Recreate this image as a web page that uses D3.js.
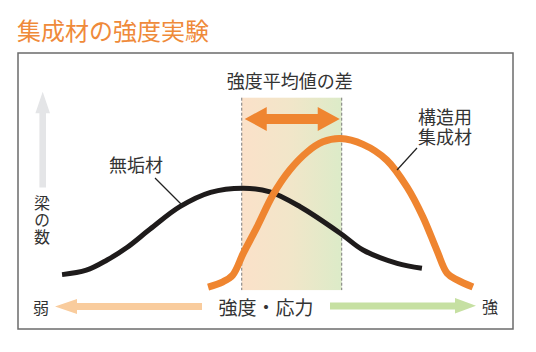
<!DOCTYPE html>
<html>
<head>
<meta charset="utf-8">
<script src="https://cdn.jsdelivr.net/npm/d3@7"></script>
<style>
  body { margin: 0; background: #fff; }
  svg { display: block; font-family: "Noto Sans CJK JP", "Noto Sans", sans-serif; }
</style>
</head>
<body>
<div id="chart"></div>
<script>
// strength (0-100) vs. number of beams (0-100)
const mukuX = [8.9, 13.8, 18.0, 22.0, 26.7, 32.7, 38.9, 45.5, 50.9, 57.0, 65.1, 69.7, 76.6, 81.6];
const mukuY = [19.7, 21.3, 25.0, 29.5, 36.2, 44.3, 49.5, 51.0, 49.7, 44.3, 34.7, 28.6, 23.8, 22.0];

const shuseiX = [38.4, 41.4, 43.4, 45.5, 48.3, 51.5, 54.9, 58.4, 61.6, 65.1, 69.7, 74.5, 78.6, 81.8, 84.6, 86.7, 88.7, 91.9];
const shuseiY = [15.2, 17.1, 19.6, 27.4, 37.0, 48.6, 57.6, 64.1, 67.8, 69.0, 66.9, 61.2, 51.4, 40.6, 28.6, 20.2, 17.8, 15.2];

const meanMuku = 45.2;
const meanShusei = 65.4;
const bandTop = 83.8;
const bandBottom = 14.1;
const diffArrowY = 76.1;

const title = '集成材の強度実験';
const diffLabel = '強度平均値の差';
const mukuLabel = '無垢材';
const shuseiLabel = ['構造用', '集成材'];
const yLabel = '梁の数';
const xLabel = '強度・応力';
const weakLabel = '弱';
const strongLabel = '強';

const width = 536;
const height = 352;
const box = { left: 18, right: 513, top: 53, bottom: 329 };

const svg = d3.select('#chart')
  .append('svg')
  .attr('width', width)
  .attr('height', height);

const x = d3.scaleLinear().domain([0, 100]).range([box.left, box.right]);
const y = d3.scaleLinear().domain([0, 100]).range([box.bottom, box.top]);

const orange = '#ef8530';
const textColor = '#333';

svg.append('text')
  .attr('x', 17)
  .attr('y', 29)
  .attr('dominant-baseline', 'central')
  .attr('font-size', 24)
  .attr('fill', '#ef8a3a')
  .text(title);

svg.append('rect')
  .attr('x', box.left)
  .attr('y', box.top)
  .attr('width', box.right - box.left)
  .attr('height', box.bottom - box.top)
  .attr('fill', 'none')
  .attr('stroke', '#6b6b6b')
  .attr('stroke-width', 1.5);

// shaded band between the two means
const grad = svg.append('defs').append('linearGradient')
  .attr('id', 'band')
  .attr('x1', '0%').attr('x2', '100%');
grad.append('stop').attr('offset', '0%').attr('stop-color', '#fbe1c9');
grad.append('stop').attr('offset', '50%').attr('stop-color', '#f1e6c9');
grad.append('stop').attr('offset', '100%').attr('stop-color', '#dcebc8');

svg.append('rect')
  .attr('x', x(meanMuku))
  .attr('y', y(bandTop))
  .attr('width', x(meanShusei) - x(meanMuku))
  .attr('height', y(bandBottom) - y(bandTop))
  .attr('fill', 'url(#band)');

svg.selectAll('.mean-line')
  .data([meanMuku, meanShusei])
  .enter().append('line')
  .attr('class', 'mean-line')
  .attr('x1', (d) => x(d))
  .attr('x2', (d) => x(d))
  .attr('y1', y(bandTop))
  .attr('y2', y(bandBottom))
  .attr('stroke', '#7a7a7a')
  .attr('stroke-width', 1)
  .attr('stroke-dasharray', '3,2');

// double arrow
const ax0 = x(meanMuku) + 3;
const ax1 = x(meanShusei) - 2;
const ay = y(diffArrowY);
const head = 22;
const hh = 12;
const sh = 5;
svg.append('path')
  .attr('d', `M${ax0},${ay} L${ax0 + head},${ay - hh} L${ax0 + head},${ay - sh} L${ax1 - head},${ay - sh}`
    + ` L${ax1 - head},${ay - hh} L${ax1},${ay} L${ax1 - head},${ay + hh} L${ax1 - head},${ay + sh}`
    + ` L${ax0 + head},${ay + sh} L${ax0 + head},${ay + hh} Z`)
  .attr('fill', orange);

svg.append('text')
  .attr('x', (x(meanMuku) + x(meanShusei)) / 2 - 2)
  .attr('y', 80)
  .attr('text-anchor', 'middle')
  .attr('dominant-baseline', 'central')
  .attr('font-size', 18)
  .attr('fill', textColor)
  .text(diffLabel);

// curves
const line = d3.line()
  .x((d) => x(d[0]))
  .y((d) => y(d[1]))
  .curve(d3.curveCatmullRom.alpha(0.5));

svg.append('path')
  .datum(d3.zip(mukuX, mukuY))
  .attr('d', line)
  .attr('fill', 'none')
  .attr('stroke', '#1e1b1b')
  .attr('stroke-width', 5);

svg.append('path')
  .datum(d3.zip(shuseiX, shuseiY))
  .attr('d', line)
  .attr('fill', 'none')
  .attr('stroke', orange)
  .attr('stroke-width', 7);

// labels with pointer lines
svg.append('text')
  .attr('x', 136)
  .attr('y', 164)
  .attr('text-anchor', 'middle')
  .attr('dominant-baseline', 'central')
  .attr('font-size', 18)
  .attr('fill', textColor)
  .text(mukuLabel);
svg.append('line')
  .attr('x1', 155).attr('y1', 178)
  .attr('x2', 182).attr('y2', 205)
  .attr('stroke', '#222').attr('stroke-width', 1.2);

const shuseiText = svg.append('text')
  .attr('text-anchor', 'middle')
  .attr('font-size', 18)
  .attr('fill', textColor);
shuseiText.selectAll('tspan')
  .data(shuseiLabel)
  .enter().append('tspan')
  .attr('x', 445)
  .attr('y', (d, i) => 123.5 + i * 20)
  .text((d) => d);
svg.append('line')
  .attr('x1', 417).attr('y1', 148)
  .attr('x2', 397).attr('y2', 170)
  .attr('stroke', '#222').attr('stroke-width', 1.2);

// y direction arrow
svg.append('path')
  .attr('d', 'M42.7,91.7 L50,113.3 L46,113.3 L46,187.5 L39.4,187.5 L39.4,113.3 L35.4,113.3 Z')
  .attr('fill', '#e4e5e7');

svg.append('text')
  .attr('x', 42)
  .attr('y', 195)
  .attr('writing-mode', 'vertical-rl')
  .attr('letter-spacing', 1)
  .attr('font-size', 16)
  .attr('fill', textColor)
  .text(yLabel);

// x direction arrows
svg.append('path')
  .attr('d', 'M55,306.5 L77,299 L77,303 L202,303 L202,310 L77,310 L77,314 Z')
  .attr('fill', '#f9cc9d');
svg.append('path')
  .attr('d', 'M476,305.8 L455,298 L455,302.5 L330,302.5 L330,309.5 L455,309.5 L455,313.5 Z')
  .attr('fill', '#c6e0a2');

svg.append('text')
  .attr('x', 266)
  .attr('y', 306)
  .attr('text-anchor', 'middle')
  .attr('dominant-baseline', 'central')
  .attr('font-size', 19)
  .attr('fill', textColor)
  .text(xLabel);

svg.append('text')
  .attr('x', 41)
  .attr('y', 307)
  .attr('text-anchor', 'middle')
  .attr('dominant-baseline', 'central')
  .attr('font-size', 16)
  .attr('fill', textColor)
  .text(weakLabel);

svg.append('text')
  .attr('x', 490)
  .attr('y', 306)
  .attr('text-anchor', 'middle')
  .attr('dominant-baseline', 'central')
  .attr('font-size', 16)
  .attr('fill', textColor)
  .text(strongLabel);
</script>
</body>
</html>
